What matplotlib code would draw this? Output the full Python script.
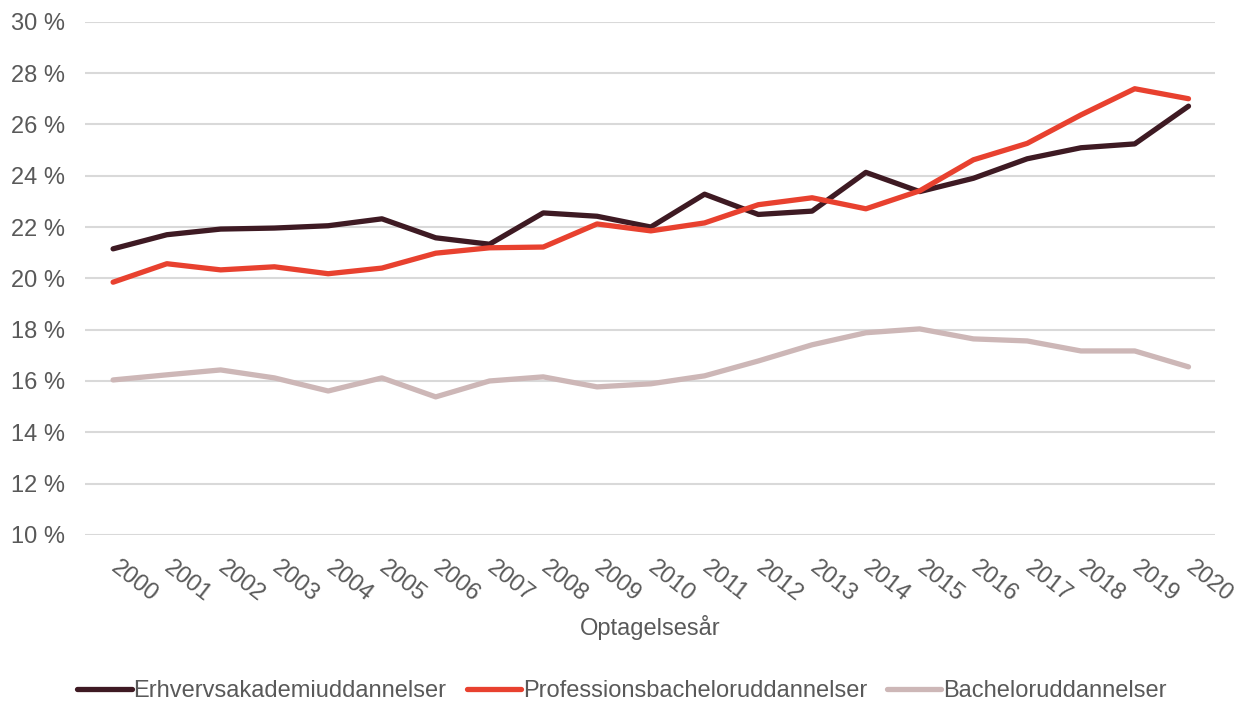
import matplotlib.pyplot as plt
from matplotlib.ticker import FuncFormatter

plt.rcParams['font.family'] = ['Liberation Sans', 'DejaVu Sans']

years = list(range(2000, 2021))
erhverv = [21.15, 21.70, 21.92, 21.96, 22.05, 22.32, 21.58, 21.33, 22.55, 22.42, 22.0,
           23.28, 22.49, 22.62, 24.13, 23.38, 23.90, 24.66, 25.09, 25.24, 26.71]
profession = [19.85, 20.57, 20.33, 20.45, 20.18, 20.40, 20.98, 21.19, 21.22, 22.12, 21.85,
              22.16, 22.87, 23.14, 22.71, 23.41, 24.62, 25.26, 26.37, 27.39, 27.0]
bachelor = [16.04, 16.24, 16.43, 16.12, 15.61, 16.12, 15.38, 16.0, 16.16, 15.77, 15.89,
            16.2, 16.78, 17.41, 17.88, 18.03, 17.64, 17.56, 17.17, 17.17, 16.55]
labels = ['Erhvervsakademiuddannelser', 'Professionsbacheloruddannelser', 'Bacheloruddannelser']
colors = ['#3e1a23', '#e8412f', '#cdb7b7']

grey = '#595959'
fs = 17
fig = plt.figure(figsize=(12.44, 7.02), dpi=100)
ax = fig.add_axes([0.068, 0.238, 0.909, 0.731])

for vals, lab, c in zip([erhverv, profession, bachelor], labels, colors):
    ax.plot(years, vals, color=c, lw=3.8, label=lab, solid_capstyle='round', solid_joinstyle='round')

ax.set_ylim(10, 30)
ax.set_yticks(range(10, 31, 2))
ax.yaxis.set_major_formatter(FuncFormatter(lambda v, p: f'{int(v)} %'))
ax.set_xlim(1999.47, 2020.5)
ax.set_xticks(years)
ax.set_xticklabels([str(y) for y in years], rotation=-38, ha='left', va='center',
                   rotation_mode='anchor')
ax.grid(axis='y', color='#d9d9d9', lw=1.5)
ax.set_axisbelow(True)
for s in ax.spines.values():
    s.set_visible(False)
ax.tick_params(length=0, labelsize=fs, colors=grey)
ax.tick_params(axis='y', pad=14)
ax.tick_params(axis='x', pad=22)
ax.set_xlabel('Optagelsesår', fontsize=fs, color=grey, labelpad=6)

fig.legend(loc='lower center', bbox_to_anchor=(0.5, -0.03), ncol=3, frameon=False,
           fontsize=fs, labelcolor=grey, handlelength=2.3, columnspacing=0.85, handletextpad=0.08)

fig.savefig('out.png', dpi=100)
